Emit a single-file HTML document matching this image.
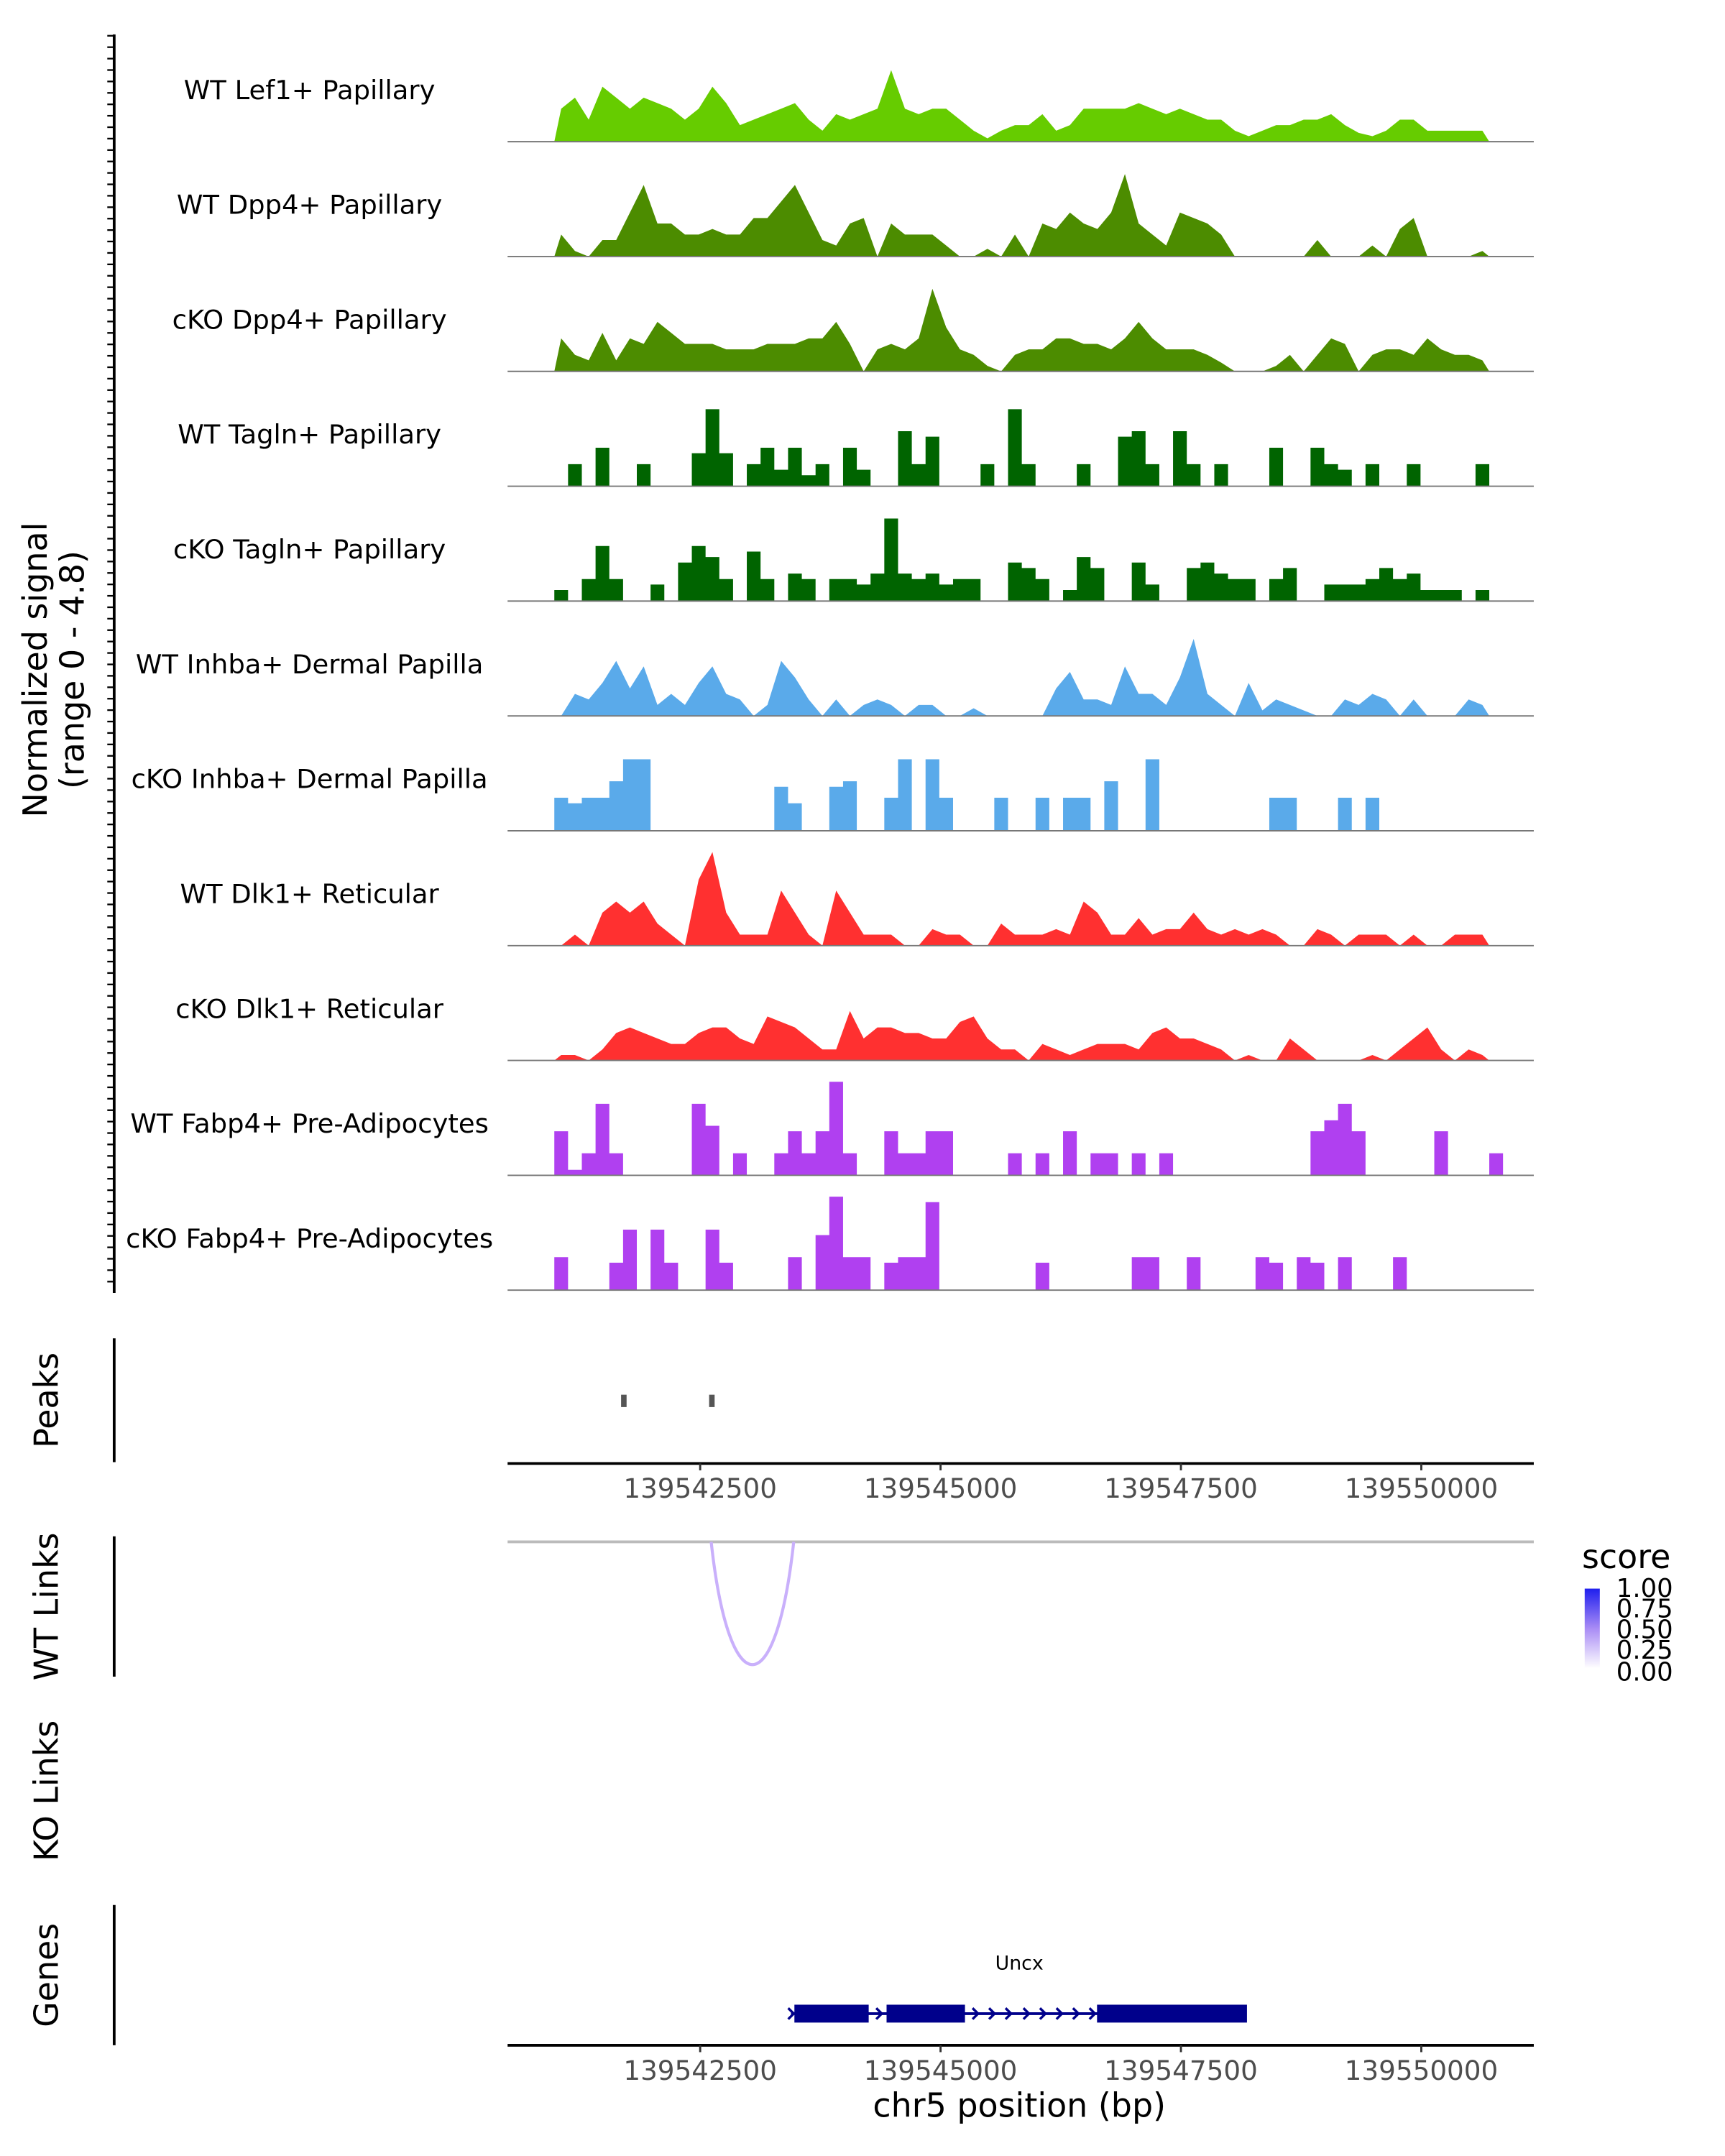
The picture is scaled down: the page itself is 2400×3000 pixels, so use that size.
<!DOCTYPE html>
<html><head><meta charset="utf-8">
<style>html,body{margin:0;padding:0;background:#fff}svg{display:block}</style>
</head><body>
<svg id="chart" xmlns="http://www.w3.org/2000/svg" width="2400" height="3000" viewBox="0 0 1254 1567.5" font-family="DejaVu Sans, Liberation Sans, sans-serif">
<rect width="1254" height="1567.5" fill="#fff"/>
<defs>
<linearGradient id="scoreGrad" x1="0" y1="1" x2="0" y2="0">
<stop offset="0" stop-color="#ffffff"/><stop offset="0.5" stop-color="#a98cf5"/><stop offset="1" stop-color="#1f1fee"/>
</linearGradient>
</defs>
<g id="tracks"></g>
<g id="axes"></g>
<text x="34" y="487" font-size="24" text-anchor="middle" transform="rotate(-90 34 487)">Normalized signal</text>
<text x="61" y="487" font-size="24" text-anchor="middle" transform="rotate(-90 61 487)">(range 0 - 4.8)</text>
<text x="42" y="1018" font-size="24" text-anchor="middle" transform="rotate(-90 42 1018)">Peaks</text>
<text x="42" y="1168" font-size="24" text-anchor="middle" transform="rotate(-90 42 1168)">WT Links</text>
<text x="42" y="1302" font-size="24" text-anchor="middle" transform="rotate(-90 42 1302)">KO Links</text>
<text x="42" y="1436" font-size="24" text-anchor="middle" transform="rotate(-90 42 1436)">Genes</text>
<line x1="83" y1="973" x2="83" y2="1063" stroke="#000" stroke-width="2"/>
<line x1="83" y1="1117" x2="83" y2="1219" stroke="#000" stroke-width="2"/>
<line x1="83" y1="1385" x2="83" y2="1487" stroke="#000" stroke-width="2"/>
<rect x="451.5" y="1014" width="4" height="9" fill="#555"/>
<rect x="515.5" y="1014" width="4" height="9" fill="#555"/>
<line x1="369" y1="1121" x2="1115" y2="1121" stroke="#bbb" stroke-width="2"/>
<path d="M517,1121 C530,1240 564,1240 577,1121" fill="none" stroke="#c9b0fb" stroke-width="2.2"/>
<text x="1150" y="1140" font-size="24">score</text>
<rect x="1152" y="1155" width="11" height="58" fill="url(#scoreGrad)"/>
<g font-size="18.5">
<text x="1175" y="1161">1.00</text><text x="1175" y="1176">0.75</text><text x="1175" y="1191">0.50</text><text x="1175" y="1206">0.25</text><text x="1175" y="1222">0.00</text>
</g>
<text x="741" y="1432" font-size="14" text-anchor="middle">Uncx</text>
<g fill="#00008b" stroke="#00008b">
<line x1="575" y1="1464" x2="906" y2="1464" stroke-width="2"/>
<rect x="578" y="1458" width="53" height="12"/>
<rect x="645" y="1458" width="56" height="12"/>
<rect x="798" y="1458" width="108" height="12"/>
<path d="M707,1460 l4,4 l-4,4 M719,1460 l4,4 l-4,4 M731,1460 l4,4 l-4,4 M744,1460 l4,4 l-4,4 M756,1460 l4,4 l-4,4 M768,1460 l4,4 l-4,4 M780,1460 l4,4 l-4,4 M792,1460 l4,4 l-4,4 M573,1460 l4,4 l-4,4 M637,1460 l4,4 l-4,4" fill="none" stroke-width="1.8"/>
</g>
<text x="741" y="1539" font-size="24" text-anchor="middle">chr5 position (bp)</text>
</svg>
<script>
const binStart = 139540983;
const binSize = 143;
const trackLabels = ["WT Lef1+ Papillary","WT Dpp4+ Papillary","cKO Dpp4+ Papillary","WT Tagln+ Papillary","cKO Tagln+ Papillary","WT Inhba+ Dermal Papilla","cKO Inhba+ Dermal Papilla","WT Dlk1+ Reticular","cKO Dlk1+ Reticular","WT Fabp4+ Pre-Adipocytes","cKO Fabp4+ Pre-Adipocytes"];
const trackColors = ["#66cc00","#4c8c00","#4c8c00","#006400","#006400","#5aaaea","#5aaaea","#ff3030","#ff3030","#b040f0","#b040f0"];
const trackStepped = [false,false,false,true,true,false,true,false,false,true,true];
const lef1WT = [3,4,2,5,4,3,4,3.5,3,2,3,5,3.5,1.5,2,2.5,3,3.5,2,1,2.5,2,2.5,3,6.5,3,2.5,3,3,2,1,0.3,1,1.5,1.5,2.5,1,1.5,3,3,3,3,3.5,3,2.5,3,2.5,2,2,1,0.5,1,1.5,1.5,2,2,2.5,1.5,0.8,0.5,1,2,2,1,1,1,1,1];
const dpp4WT = [2,0.5,0,1.5,1.5,4,6.5,3,3,2,2,2.5,2,2,3.5,3.5,5,6.5,4,1.5,1,3,3.5,0,3,2,2,2,1,0,0,0.7,0,2,0,3,2.5,4,3,2.5,4,7.5,3,2,1,4,3.5,3,2,0,0,0,0,0,0,1.5,0,0,0,1,0,2.5,3.5,0,0,0,0,0.5];
const dpp4KO = [3,1.5,1,3.5,1,3,2.5,4.5,3.5,2.5,2.5,2.5,2,2,2,2.5,2.5,2.5,3,3,4.5,2.5,0,2,2.5,2,3,7.5,4,2,1.5,0.5,0,1.5,2,2,3,3,2.5,2.5,2,3,4.5,3,2,2,2,1.5,0.8,0,0,0,0.5,1.5,0,1.5,3,2.5,0,1.5,2,2,1.5,3,2,1.5,1.5,1];
const taglnWT = [0,2,0,3.5,0,0,2,0,0,0,3,7,3,0,2,3.5,1.5,3.5,1,2,0,3.5,1.5,0,0,5,2,4.5,0,0,0,2,0,7,2,0,0,0,2,0,0,4.5,5,2,0,5,2,0,2,0,0,0,3.5,0,0,3.5,2,1.5,0,2,0,0,2,0,0,0,0,2];
const taglnKO = [1,0,2,5,2,0,0,1.5,0,3.5,5,4,2,0,4.5,2,0,2.5,2,0,2,2,1.5,2.5,7.5,2.5,2,2.5,1.5,2,2,0,0,3.5,3,2,0,1,4,3,0,0,3.5,1.5,0,0,3,3.5,2.5,2,2,0,2,3,0,0,1.5,1.5,1.5,2,3,2,2.5,1,1,1,0,1];
const inhbaWT = [0,2,1.5,3,5,2.5,4.5,1,2,1,3,4.5,2,1.5,0,1,5,3.5,1.5,0,1.5,0,1,1.5,1,0,1,1,0,0,0.7,0,0,0,0,0,2.5,4,1.5,1.5,1,4.5,2,2,1,3.5,7,2,1,0,3,0.5,1.5,1,0.5,0,0,1.5,1,2,1.5,0,1.5,0,0,0,1.5,1];
const inhbaKO = [3,2.5,3,3,4.5,6.5,6.5,0,0,0,0,0,0,0,0,0,4,2.5,0,0,4,4.5,0,0,3,6.5,0,6.5,3,0,0,0,3,0,0,3,0,3,3,0,4.5,0,0,6.5,0,0,0,0,0,0,0,0,3,3,0,0,0,3,0,3,0,0,0,0,0,0,0,0];
const dlk1WT = [0,1,0,3,4,3,4,2,1,0,6,8.5,3,1,1,1,5,3,1,0,5,3,1,1,1,0,0,1.5,1,1,0,0,2,1,1,1,1.5,1,4,3,1,1,2.5,1,1.5,1.5,3,1.5,1,1.5,1,1.5,1,0,0,1.5,1,0,1,1,1,0,1,0,0,1,1,1];
const dlk1KO = [0.5,0.5,0,1,2.5,3,2.5,2,1.5,1.5,2.5,3,3,2,1.5,4,3.5,3,2,1,1,4.5,2,3,3,2.5,2.5,2,2,3.5,4,2,1,1,0,1.5,1,0.5,1,1.5,1.5,1.5,1,2.5,3,2,2,1.5,1,0,0.5,0,0,2,1,0,0,0,0,0.5,0,1,2,3,1,0,1,0.5];
const fabp4WT = [4,0.5,2,6.5,2,0,0,0,0,0,6.5,4.5,0,2,0,0,2,4,2,4,8.5,2,0,0,4,2,2,4,4,0,0,0,0,2,0,2,0,4,0,2,2,0,2,0,2,0,0,0,0,0,0,0,0,0,0,4,5,6.5,4,0,0,0,0,0,4,0,0,0,2];
const fabp4KO = [3,0,0,0,2.5,5.5,0,5.5,2.5,0,0,5.5,2.5,0,0,0,0,3,0,5,8.5,3,3,0,2.5,3,3,8,0,0,0,0,0,0,0,2.5,0,0,0,0,0,0,3,3,0,0,3,0,0,0,0,3,2.5,0,3,2.5,0,3,0,0,0,3,0,0,0,0,0,0];
const trackValues = [lef1WT,dpp4WT,dpp4KO,taglnWT,taglnKO,inhbaWT,inhbaKO,dlk1WT,dlk1KO,fabp4WT,fabp4KO];
const xTicks = [139542500,139545000,139547500,139550000];

const NS = "http://www.w3.org/2000/svg";
const tracksG = document.getElementById('tracks');
const axesG = document.getElementById('axes');
const X0 = 369, X1 = 1115, D0 = 139540497, D1 = 139551170;
function xs(pos){ return X0 + (pos - D0) * (X1 - X0) / (D1 - D0); }
const trackH = 83.5;
function baseOf(i){ return 103 + i * trackH; }
function ys(i, v){ return baseOf(i) - v * 8; }
function mk(tag, attrs){ const e = document.createElementNS(NS, tag); for (const k in attrs) e.setAttribute(k, attrs[k]); return e; }

trackValues.forEach((vals, i) => {
  const base = baseOf(i);
  let d = 'M' + xs(binStart).toFixed(2) + ',' + base;
  vals.forEach((v, j) => {
    const xa = xs(binStart + j * binSize), xb = xs(binStart + (j + 1) * binSize);
    const y = ys(i, v).toFixed(2);
    if (trackStepped[i]) {
      d += ' L' + xa.toFixed(2) + ',' + y + ' L' + xb.toFixed(2) + ',' + y;
    } else {
      d += ' L' + ((xa + xb) / 2).toFixed(2) + ',' + y;
    }
  });
  d += ' L' + xs(binStart + vals.length * binSize).toFixed(2) + ',' + base + ' Z';
  const p = mk('path', {d: d, fill: trackColors[i]});
  
  
  tracksG.appendChild(p);
  const bl = mk('line', {x1: X0, x2: X1, y1: base, y2: base, stroke: '#777', 'stroke-width': 1});
  
  
  tracksG.appendChild(bl);
  const t = mk('text', {x: 225, y: base - 31, 'font-size': 19.3, 'text-anchor': 'middle'});
  t.textContent = trackLabels[i];
  
  
  tracksG.appendChild(t);
});

const ya = mk('line', {x1: 83, x2: 83, y1: 25, y2: 940, stroke: '#000', 'stroke-width': 2});


axesG.appendChild(ya);
for (let k = 0; k <= 110; k++) {
  const y = 26 + k * 8.31;
  if (y > 940) break;
  const tk = mk('line', {x1: 78, x2: 83, y1: y, y2: y, stroke: '#000', 'stroke-width': 1.2});
  
  
  axesG.appendChild(tk);
}

[1064, 1487].forEach((ay, ai) => {
  const al = mk('line', {x1: X0, x2: X1, y1: ay, y2: ay, stroke: '#000', 'stroke-width': 2});
  
  
  axesG.appendChild(al);
  xTicks.forEach(tv => {
    const x = xs(tv);
    const tk = mk('line', {x1: x, x2: x, y1: ay, y2: ay + 5, stroke: '#333', 'stroke-width': 1.5});
    
    
    axesG.appendChild(tk);
    const tl = mk('text', {x: x, y: ay + 25, 'font-size': 19.5, 'text-anchor': 'middle', fill: '#4d4d4d'});
    tl.textContent = String(tv);
    
    
    axesG.appendChild(tl);
  });
});
</script>
</body></html>
